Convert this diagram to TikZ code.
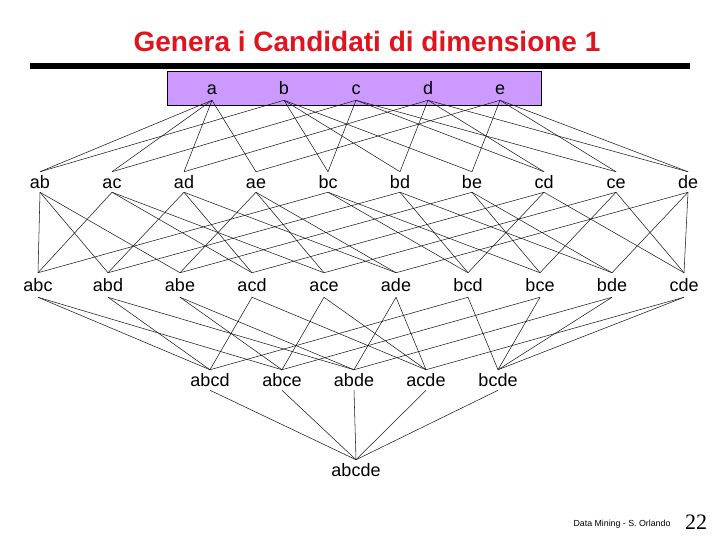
\documentclass[tikz,border=0pt]{standalone}
\usepackage{fontspec}
\setmainfont{Liberation Sans}
\newfontfamily\slidenum{Liberation Serif}
\usepackage{tikz}
\definecolor{titlered}{HTML}{E0141E}
\definecolor{boxlilac}{HTML}{CC99FF}
\tikzset{
  item/.style={inner sep=0pt, minimum height=15pt, text height=10pt, text depth=0pt,
    font=\fontsize{13.5}{14}\selectfont},
  tallitem/.style={item, minimum height=18pt},
  link/.style={draw=black!90, line width=0.4pt},
}

\begin{document}
\begin{tikzpicture}[x=0.75pt, y=-0.75pt]
\useasboundingbox (0,0) rectangle (720,540);

% title and rule
\node[anchor=base, text=titlered, font=\bfseries\fontsize{21}{24}\selectfont] (title) at (367,51) {Genera i Candidati di dimensione 1};
\draw[line width=4pt] (30,66) -- (690,66);

% candidates of size 1
\filldraw[fill=boxlilac, draw=black, line width=0.6pt] (167,71) rectangle (541,105);
\foreach \s/\x in {a/212,b/284,c/356,d/428,e/500}
  \node[tallitem] (\s) at (\x,88) {\s};

% the rest of the lattice
\foreach \s/\x in {ab/40,ac/112,ad/184,ae/256,bc/328,bd/400,be/472,cd/544,ce/616,de/688}
  \node[item] (\s) at (\x,182) {\s};
\foreach \s/\x in {abc/38,abd/108,abe/180,acd/252,ace/324,ade/396,bcd/468,bce/540,bde/612,cde/684}
  \node[tallitem] (\s) at (\x,285) {\s};
\foreach \s/\x in {abcd/210,abce/282,abde/354,acde/426,bcde/498}
  \node[item] (\s) at (\x,380) {\s};
\node[item] (abcde) at (356,470) {abcde};

% edges
\foreach \t/\p/\q in {ab/a/b,ac/a/c,ad/a/d,ae/a/e,bc/b/c,bd/b/d,be/b/e,cd/c/d,ce/c/e,de/d/e}
{
  \draw[link] (\p.south) -- (\t.north);
  \draw[link] (\q.south) -- (\t.north);
}
\foreach \t/\p/\q/\r in {abc/ab/ac/bc,abd/ab/ad/bd,abe/ab/ae/be,acd/ac/ad/cd,ace/ac/ae/ce,
                         ade/ad/ae/de,bcd/bc/bd/cd,bce/bc/be/ce,bde/bd/be/de,cde/cd/ce/de}
{
  \draw[link] (\p.south) -- (\t.north);
  \draw[link] (\q.south) -- (\t.north);
  \draw[link] (\r.south) -- (\t.north);
}
\foreach \t/\p/\q/\r/\w in {abcd/abc/abd/acd/bcd,abce/abc/abe/ace/bce,abde/abd/abe/ade/bde,
                            acde/acd/ace/ade/cde,bcde/bcd/bce/bde/cde}
{
  \draw[link] (\p.south) -- (\t.north);
  \draw[link] (\q.south) -- (\t.north);
  \draw[link] (\r.south) -- (\t.north);
  \draw[link] (\w.south) -- (\t.north);
}
\foreach \p in {abcd,abce,abde,acde,bcde}
  \draw[link] (\p.south) -- (abcde.north);

% footer
\node[anchor=base, font=\fontsize{6.6}{8}\selectfont] (credit) at (622,526) {Data Mining - S. Orlando};
\node[anchor=base, font=\slidenum\fontsize{16.5}{18}\selectfont] (page) at (696,529) {22};
\end{tikzpicture}
\end{document}
